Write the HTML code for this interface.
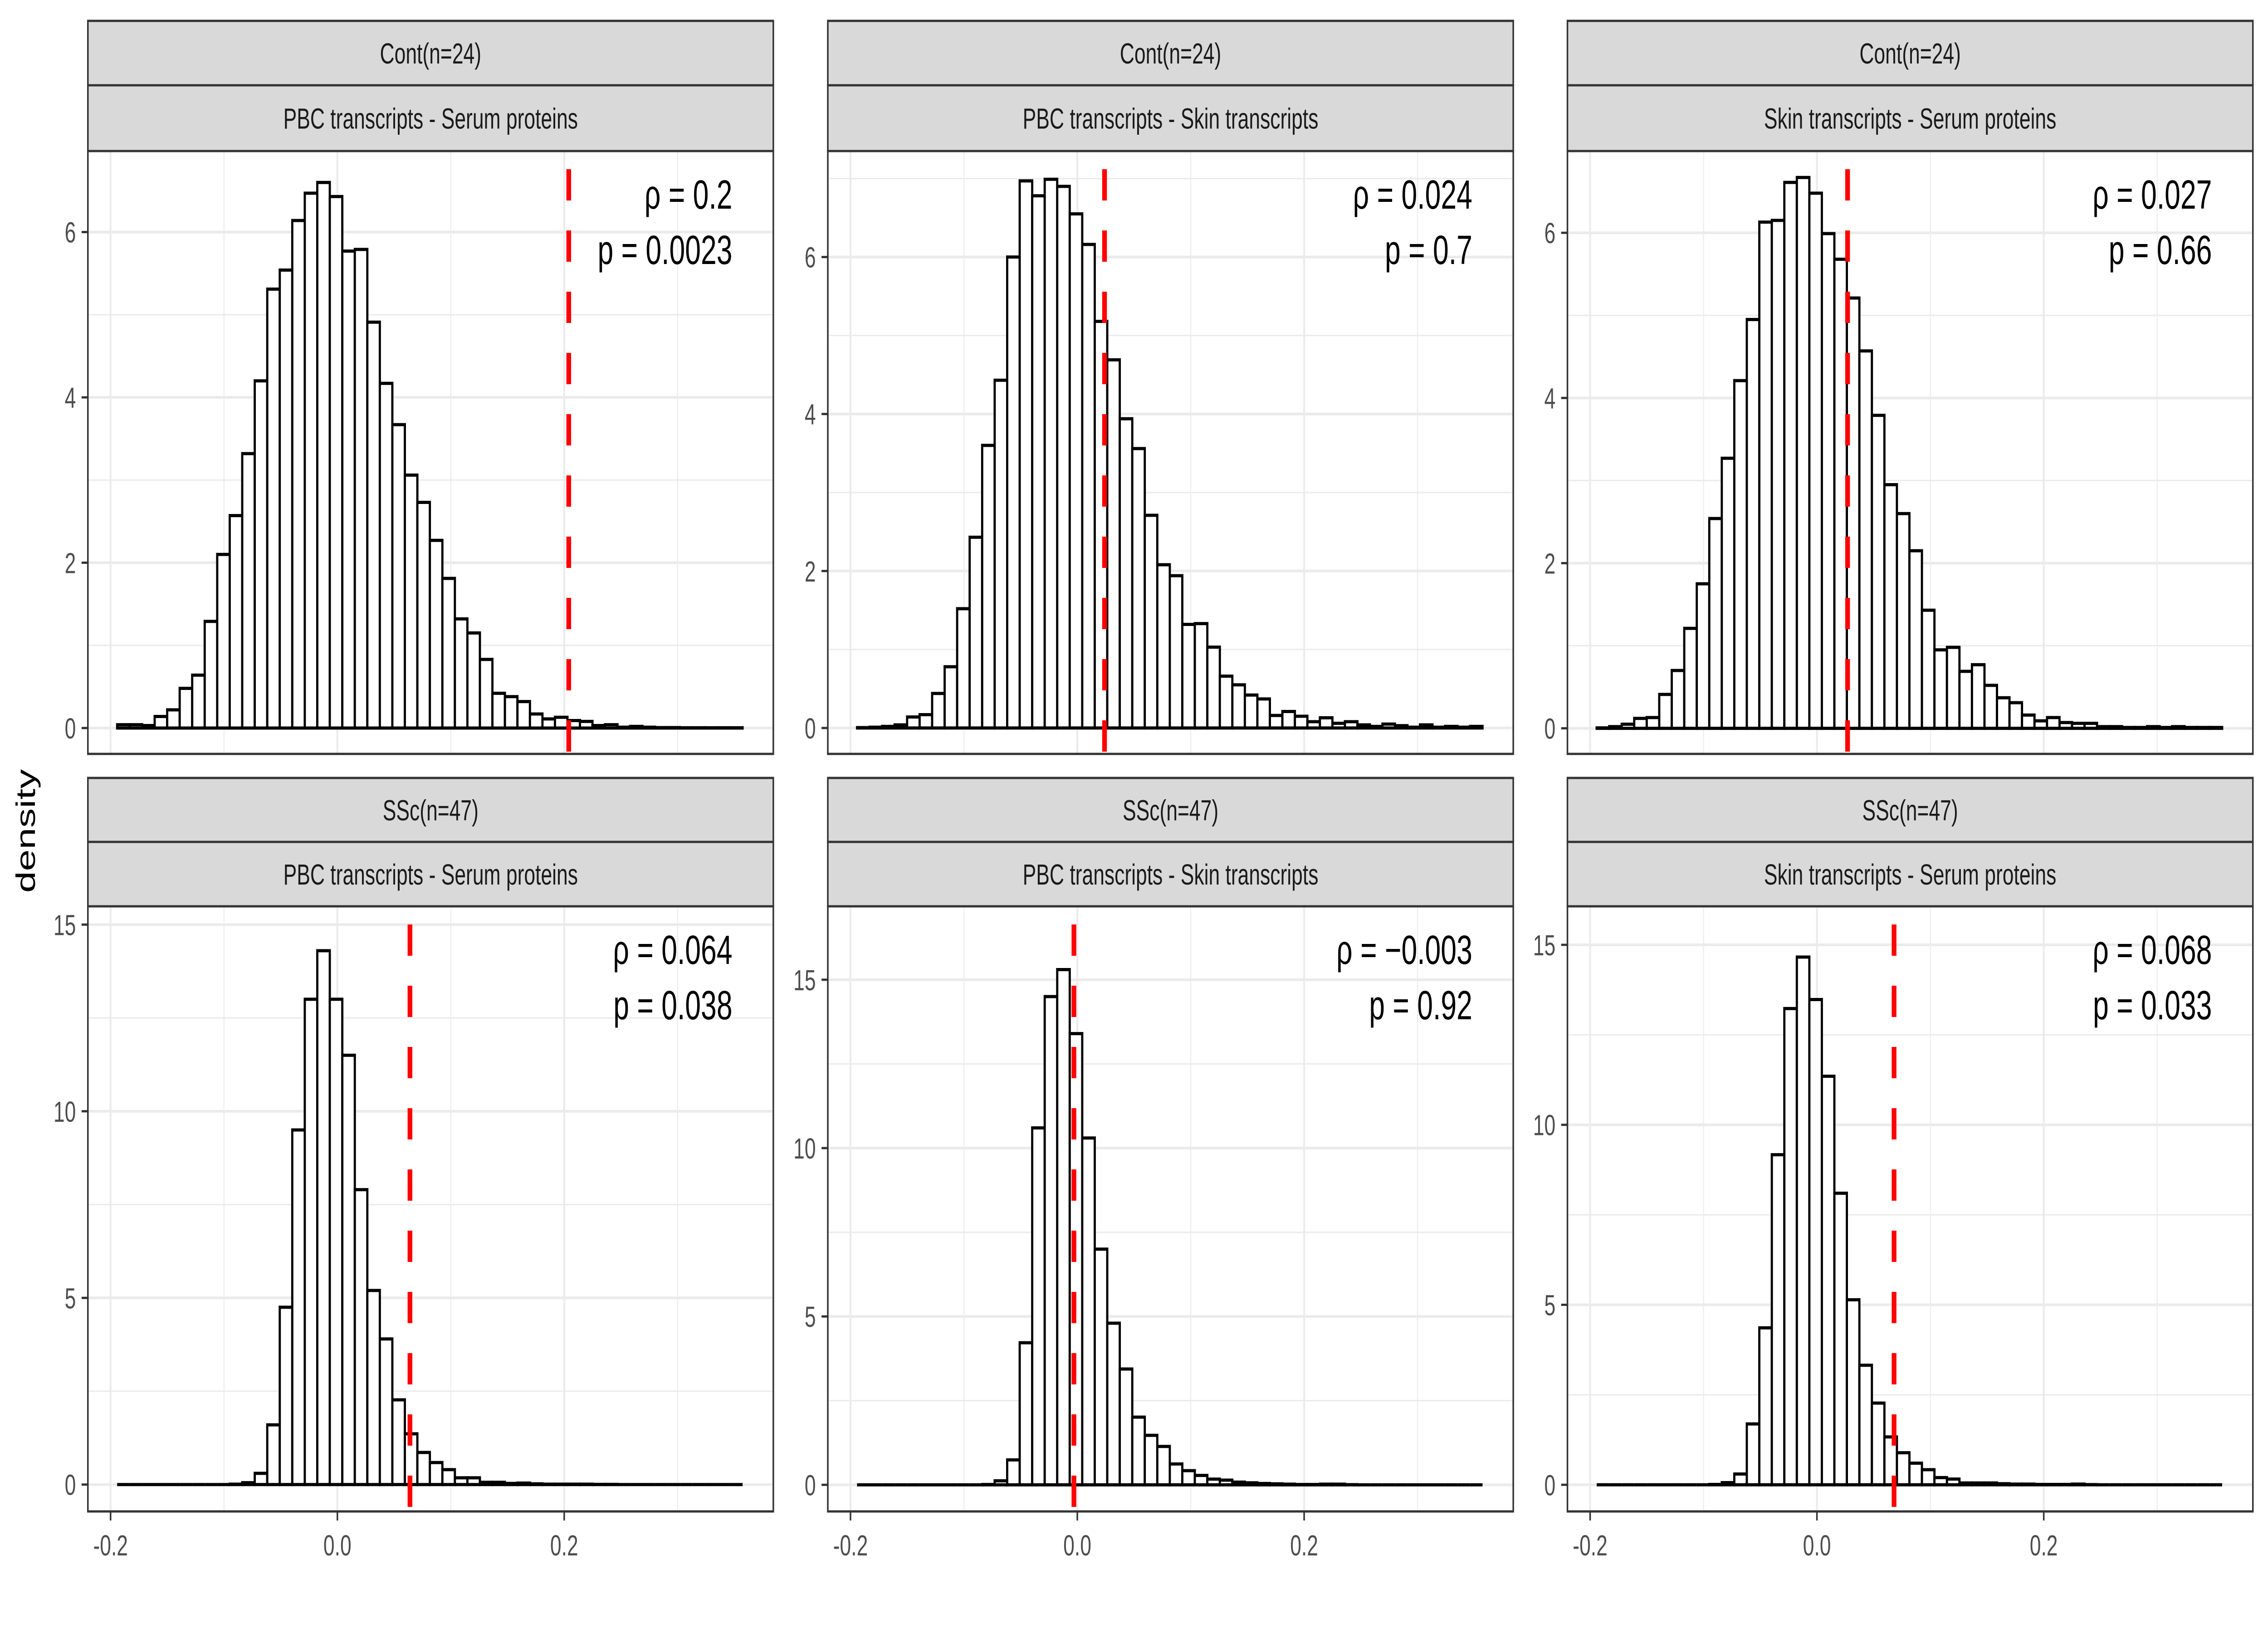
<!DOCTYPE html>
<html><head><meta charset="utf-8"><style>
html,body{margin:0;padding:0;background:#fff;overflow:hidden;}
svg{display:block;width:100vw;height:100vh;font-family:"Liberation Sans",Arial,sans-serif;}
</style></head><body>
<svg id="chart" xmlns="http://www.w3.org/2000/svg" viewBox="0 0 7200 3600" preserveAspectRatio="none">
<rect x="0" y="0" width="7200" height="3600" fill="#fff"/>
<text x="88" y="1832" font-size="86" fill="#000" text-anchor="middle" dominant-baseline="middle" transform="rotate(-90 88 1832)">density</text>
</svg>
<script>
// ---- data ----
const groupLabels = ["Cont(n=24)","Cont(n=24)","Cont(n=24)","SSc(n=47)","SSc(n=47)","SSc(n=47)"];
const pairLabels = ["PBC transcripts - Serum proteins","PBC transcripts - Skin transcripts","Skin transcripts - Serum proteins","PBC transcripts - Serum proteins","PBC transcripts - Skin transcripts","Skin transcripts - Serum proteins"];
const rhoLabels = ["0.2","0.024","0.027","0.064","\u22120.003","0.068"];
const pLabels = ["0.0023","0.7","0.66","0.038","0.92","0.033"];
const observedRho = [0.204,0.024,0.027,0.064,-0.003,0.068];
const binStart = -0.1942;
const binWidth = 0.01103;
const dens1 = [0.04,0.04,0.03,0.14,0.22,0.48,0.64,1.29,2.1,2.57,3.32,4.2,5.31,5.54,6.14,6.47,6.6,6.43,5.77,5.79,4.91,4.17,3.67,3.06,2.73,2.27,1.81,1.32,1.15,0.83,0.42,0.38,0.32,0.17,0.11,0.13,0.09,0.08,0.03,0.04,0.01,0.02,0.01,0.005,0.005,0.003,0.003,0.003,0.003,0.003];
const dens2 = [0.005,0.01,0.02,0.04,0.14,0.17,0.44,0.78,1.52,2.43,3.6,4.43,6.0,6.97,6.78,6.99,6.9,6.55,6.16,5.18,4.69,3.94,3.56,2.71,2.08,1.94,1.32,1.33,1.03,0.66,0.55,0.42,0.37,0.16,0.21,0.15,0.08,0.13,0.06,0.08,0.04,0.02,0.05,0.03,0.01,0.04,0.01,0.02,0.01,0.02];
const dens3 = [0.005,0.02,0.05,0.12,0.13,0.41,0.7,1.21,1.75,2.54,3.27,4.21,4.95,6.13,6.15,6.61,6.67,6.48,5.99,5.68,5.21,4.57,3.79,2.95,2.6,2.15,1.43,0.95,0.98,0.69,0.77,0.52,0.37,0.31,0.16,0.09,0.13,0.07,0.06,0.06,0.02,0.02,0.01,0.01,0.02,0.01,0.02,0.01,0.01,0.01];
const dens4 = [0,0,0,0,0,0,0,0,0,0.01,0.05,0.3,1.6,4.75,9.5,13.0,14.3,13.0,11.5,7.9,5.2,3.9,2.27,1.36,0.86,0.59,0.4,0.18,0.18,0.06,0.06,0.03,0.04,0.02,0.01,0.01,0.01,0.01,0.005,0.005,0,0,0,0,0,0,0,0,0,0];
const dens5 = [0,0,0,0,0,0,0,0,0,0,0.01,0.12,0.74,4.22,10.6,14.5,15.3,13.4,10.3,7.0,4.8,3.44,2.01,1.47,1.14,0.62,0.42,0.28,0.17,0.14,0.08,0.06,0.04,0.03,0.02,0.01,0.01,0.02,0.02,0.005,0,0,0,0,0,0,0,0,0,0];
const dens6 = [0,0,0,0,0,0,0,0,0,0.01,0.06,0.3,1.69,4.36,9.17,13.23,14.66,13.48,11.35,8.1,5.14,3.32,2.27,1.33,0.89,0.6,0.42,0.2,0.16,0.05,0.05,0.05,0.03,0.02,0.02,0.01,0.01,0.01,0.02,0.005,0,0,0,0,0,0,0,0,0,0];
const densities = [dens1,dens2,dens3,dens4,dens5,dens6];
const yLow = [-0.313,-0.33,-0.31,-0.72,-0.79,-0.74];
const yHigh = [6.98,7.35,6.99,15.49,17.18,16.07];
const yTicksTop = [0,2,4,6];
const yTicksBottom = [0,5,10,15];
const xTicks = [-0.2,0.0,0.2];
const xTickLabels = ["-0.2","0.0","0.2"];
const xMinor = [-0.1,0.1,0.3];
const xDomain = [-0.22,0.3844];

// ---- layout ----
const NS = "http://www.w3.org/2000/svg";
const svg = document.getElementById("chart");
const colLeft = [279,2628,4976];
const panelW = 2176;
const rows = [
  {s1:46,s2:188,top:333,bottom:1662},
  {s1:1715,s2:1856,top:1998,bottom:3332}
];
function mk(tag, attrs, parent){
  const e = document.createElementNS(NS, tag);
  for (const k in attrs) e.setAttribute(k, attrs[k]);
  (parent||svg).appendChild(e);
  return e;
}
for (let i=0;i<6;i++){
  const r = rows[Math.floor(i/3)];
  const L = colLeft[i%3], R = L+panelW, T = r.top, B = r.bottom;
  const g = mk("g",{});
  
  
  const xs = v => L + (v - xDomain[0])/(xDomain[1]-xDomain[0])*panelW;
  const ys = v => B - (v - yLow[i])/(yHigh[i]-yLow[i])*(B-T);
  const yt = i<3 ? yTicksTop : yTicksBottom;
  const step = yt[1]-yt[0];
  const grid = mk("g",{},g);
  
  
  xMinor.forEach(v=>{ mk("line",{x1:xs(v),x2:xs(v),y1:T,y2:B,stroke:"#EBEBEB","stroke-width":3},grid); });
  yt.forEach(v=>{ const m=v+step/2; if (ys(m)>T) mk("line",{x1:L,x2:R,y1:ys(m),y2:ys(m),stroke:"#EBEBEB","stroke-width":3},grid); });
  xTicks.forEach(v=>{ mk("line",{x1:xs(v),x2:xs(v),y1:T,y2:B,stroke:"#EBEBEB","stroke-width":6},grid); });
  yt.forEach(v=>{ mk("line",{x1:L,x2:R,y1:ys(v),y2:ys(v),stroke:"#EBEBEB","stroke-width":6},grid); });
  const bars = mk("g",{},g);
  
  
  densities[i].forEach((d,k)=>{
    const x0 = xs(binStart+k*binWidth), x1 = xs(binStart+(k+1)*binWidth);
    const y0 = ys(0), y1 = ys(d);
    const pth = mk("path",{d:"M"+x0+" "+y0+" V"+y1+" H"+x1+" V"+y0+" Z",fill:"#fff",stroke:"#000","stroke-width":7,"stroke-linejoin":"miter"},bars);
    
    
  });
  const vl = mk("line",{x1:xs(observedRho[i]),x2:xs(observedRho[i]),y1:T,y2:B,stroke:"#FF0000","stroke-width":15,"stroke-dasharray":"69 66","stroke-dashoffset":95},g);
  
  
  const a1 = mk("text",{x:R-130,y:T+127,"font-size":90,"text-anchor":"end",fill:"#000"},g);
  
  
  a1.textContent = "\u03C1 = "+rhoLabels[i];
  const a2 = mk("text",{x:R-130,y:T+249,"font-size":90,"text-anchor":"end",fill:"#000"},g);
  
  
  a2.textContent = "p = "+pLabels[i];
  const bd = mk("rect",{x:L,y:T,width:panelW,height:B-T,fill:"none",stroke:"#333333","stroke-width":5},g);
  
  
  const st1 = mk("rect",{x:L,y:r.s1,width:panelW,height:r.s2-r.s1,fill:"#D9D9D9",stroke:"#333333","stroke-width":5},g);
  
  
  const st2 = mk("rect",{x:L,y:r.s2,width:panelW,height:T-r.s2,fill:"#D9D9D9",stroke:"#333333","stroke-width":5},g);
  
  
  const t1 = mk("text",{x:L+panelW/2,y:(r.s1+r.s2)/2+23,"font-size":64,"text-anchor":"middle",fill:"#1A1A1A"},g);
  
  
  t1.textContent = groupLabels[i];
  const t2 = mk("text",{x:L+panelW/2,y:(r.s2+T)/2+23,"font-size":64,"text-anchor":"middle",fill:"#1A1A1A"},g);
  
  
  t2.textContent = pairLabels[i];
  yt.forEach(v=>{
    mk("line",{x1:L-20,x2:L,y1:ys(v),y2:ys(v),stroke:"#333333","stroke-width":5},g);
    const tl = mk("text",{x:L-38,y:ys(v)+23,"font-size":64,"text-anchor":"end",fill:"#4D4D4D"},g);
    
    
    tl.textContent = String(v);
  });
  if (i>=3){
    xTicks.forEach((v,j)=>{
      mk("line",{x1:xs(v),x2:xs(v),y1:B,y2:B+20,stroke:"#333333","stroke-width":5},g);
      const xl = mk("text",{x:xs(v),y:B+97,"font-size":64,"text-anchor":"middle",fill:"#4D4D4D"},g);
      
      
      xl.textContent = xTickLabels[j];
    });
  }
}
</script>
</body></html>
